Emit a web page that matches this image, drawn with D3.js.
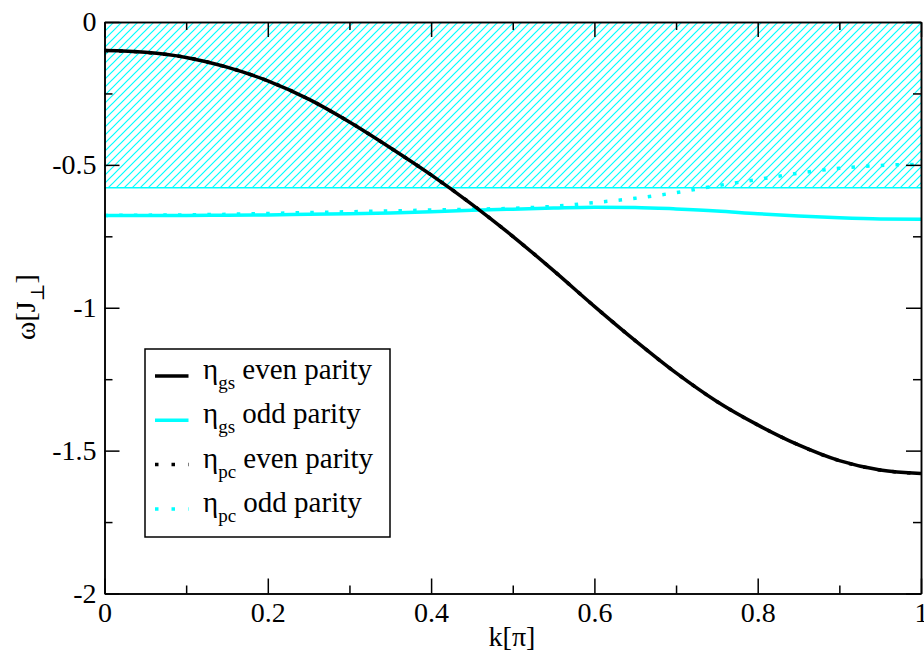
<!DOCTYPE html>
<html lang="en">
<head>
    <meta charset="utf-8">
    <title>Dispersion</title>
    <script src="https://d3js.org/d3.v7.min.js"></script>
    <style>
        body { margin: 0; background: #fff; }
    </style>
</head>
<body>

<script>
    // k values (units of pi)
    const kVals = [0, 0.05, 0.1, 0.15, 0.2, 0.25, 0.3, 0.35, 0.4, 0.45, 0.5,
                   0.55, 0.6, 0.65, 0.7, 0.75, 0.8, 0.85, 0.9, 0.95, 1.0];

    // eta_gs, even parity (black solid)
    const gsEven = [-0.100, -0.106, -0.124, -0.158, -0.206, -0.270, -0.350, -0.440, -0.535, -0.638, -0.750,
                    -0.870, -0.995, -1.115, -1.228, -1.328, -1.410, -1.480, -1.535, -1.568, -1.580];
    // eta_gs, odd parity (cyan solid)
    const gsOdd = [-0.677, -0.677, -0.677, -0.676, -0.675, -0.673, -0.671, -0.668, -0.664, -0.659, -0.655,
                   -0.651, -0.648, -0.649, -0.654, -0.661, -0.671, -0.679, -0.685, -0.689, -0.690];
    // eta_pc, even parity (black dotted, lies under the solid one)
    const pcEven = gsEven.slice();
    // eta_pc, odd parity (cyan dotted)
    const pcOdd = [-0.677, -0.676, -0.675, -0.673, -0.670, -0.667, -0.664, -0.661, -0.658, -0.655, -0.652,
                   -0.645, -0.632, -0.617, -0.597, -0.573, -0.551, -0.529, -0.512, -0.502, -0.498];

    // continuum band
    const bandTop = 0;
    const bandBottom = -0.58;

    const xMajor = [0, 0.2, 0.4, 0.6, 0.8, 1];
    const xMinor = [0.1, 0.3, 0.5, 0.7, 0.9];
    const yMajor = [0, -0.5, -1, -1.5, -2];
    const yMinor = [-0.25, -0.75, -1.25, -1.75];

    const legendLabels = [
        {sub: "gs", text: "even parity", color: "#000", dotted: false},
        {sub: "gs", text: "odd parity", color: "#00ffff", dotted: false},
        {sub: "pc", text: "even parity", color: "#000", dotted: true},
        {sub: "pc", text: "odd parity", color: "#00ffff", dotted: true}
    ];

    const W = 924, H = 655;
    const FONT = "'Liberation Serif', 'DejaVu Serif', serif";
    const x = d3.scaleLinear().domain([0, 1]).range([104.5, 921]);
    const y = d3.scaleLinear().domain([-2, 0]).range([593.5, 22]);

    const svg = d3.select("body").append("svg").attr("width", W).attr("height", H)
        .attr("font-family", FONT);

    // hatch pattern
    const defs = svg.append("defs");
    const pat = defs.append("pattern").attr("id", "hatch")
        .attr("patternUnits", "userSpaceOnUse").attr("width", 8).attr("height", 8);
    pat.append("path").attr("d", "M-2,2 l4,-4 M0,8 l8,-8 M6,10 l4,-4")
        .attr("fill", "none").attr("stroke", "#00ffff").attr("stroke-width", 1.2);

    svg.append("rect")
        .attr("x", x(0)).attr("y", y(bandTop))
        .attr("width", x(1) - x(0)).attr("height", y(bandBottom) - y(bandTop))
        .attr("fill", "url(#hatch)");
    svg.append("line")
        .attr("x1", x(0)).attr("x2", x(1)).attr("y1", y(bandBottom)).attr("y2", y(bandBottom))
        .attr("stroke", "#00ffff").attr("stroke-width", 1.5);

    const line = d3.line().x((d, i) => x(kVals[i])).y(d => y(d)).curve(d3.curveMonotoneX);

    const series = [
        {vals: pcEven, color: "#000", dotted: true},
        {vals: gsOdd, color: "#00ffff", dotted: false},
        {vals: pcOdd, color: "#00ffff", dotted: true},
        {vals: gsEven, color: "#000", dotted: false}
    ];
    svg.selectAll("path.series").data(series).enter().append("path")
        .attr("class", "series")
        .attr("d", d => line(d.vals))
        .attr("fill", "none")
        .attr("stroke", d => d.color)
        .attr("stroke-width", 3.5)
        .attr("stroke-dasharray", d => d.dotted ? "3.5,11.2" : null);

    // axes with inward ticks on all four sides
    const fmt = d => d === 0 ? "0" : d3.format("")(d).replace("−", "-");
    const addAxis = (axis, tx, ty) => {
        const g = svg.append("g").attr("class", "axis")
            .attr("transform", `translate(${tx},${ty})`).call(axis)
            .attr("font-family", FONT).attr("font-size", 28);
        g.selectAll("path, line").attr("stroke", "#000").attr("stroke-width", 1.5);
        g.selectAll("text").attr("fill", "#000");
        return g;
    };

    addAxis(d3.axisBottom(x).tickValues(xMajor).tickSize(-15).tickSizeOuter(0).tickPadding(8.5).tickFormat(fmt), 0, y(-2));
    addAxis(d3.axisBottom(x).tickValues(xMinor).tickSize(-8).tickSizeOuter(0).tickFormat(""), 0, y(-2));
    addAxis(d3.axisTop(x).tickValues(xMajor).tickSize(-15).tickSizeOuter(0).tickFormat(""), 0, y(0));
    addAxis(d3.axisTop(x).tickValues(xMinor).tickSize(-8).tickSizeOuter(0).tickFormat(""), 0, y(0));
    addAxis(d3.axisLeft(y).tickValues(yMajor).tickSize(-15).tickSizeOuter(0).tickPadding(8).tickFormat(fmt), x(0), 0);
    addAxis(d3.axisLeft(y).tickValues(yMinor).tickSize(-8).tickSizeOuter(0).tickFormat(""), x(0), 0);
    addAxis(d3.axisRight(y).tickValues(yMajor).tickSize(-15).tickSizeOuter(0).tickFormat(""), x(1), 0);
    addAxis(d3.axisRight(y).tickValues(yMinor).tickSize(-8).tickSizeOuter(0).tickFormat(""), x(1), 0);

    // axis titles
    svg.append("text").attr("x", 512).attr("y", 646).attr("text-anchor", "middle")
        .attr("font-family", FONT).attr("font-size", 28).text("k[π]");
    const yl = svg.append("text").attr("transform", "translate(35,307) rotate(-90)")
        .attr("text-anchor", "middle").attr("font-family", FONT).attr("font-size", 28);
    yl.append("tspan").text("ω[J");
    yl.append("tspan").attr("dy", 9).attr("font-size", 19).text("⊥");
    yl.append("tspan").attr("dy", -9).text("]");

    // legend
    const lg = svg.append("g");
    lg.append("rect").attr("x", 145).attr("y", 349).attr("width", 245).attr("height", 188)
        .attr("fill", "#fff").attr("stroke", "#000").attr("stroke-width", 1.5);
    const rows = lg.selectAll("g.row").data(legendLabels).enter().append("g")
        .attr("class", "row")
        .attr("transform", (d, i) => `translate(0,${376 + i * 44.3})`);
    rows.append("line").attr("x1", 155).attr("x2", 188.5).attr("y1", 0).attr("y2", 0)
        .attr("stroke", d => d.color).attr("stroke-width", 3.5)
        .attr("stroke-dasharray", d => d.dotted ? "3.5,13" : null);
    const t = rows.append("text").attr("x", 203).attr("y", 3)
        .attr("font-family", FONT).attr("font-size", 29);
    t.append("tspan").text("η");
    t.append("tspan").attr("dy", 10).attr("font-size", 19).text(d => d.sub);
    t.append("tspan").attr("dy", -10).text(d => " " + d.text);
</script>

</body>
</html>
